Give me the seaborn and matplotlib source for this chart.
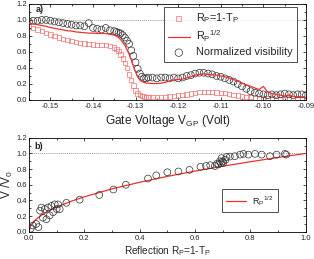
import numpy as np
import pandas as pd
import matplotlib
matplotlib.use('Agg')
import matplotlib.pyplot as plt
import seaborn as sns
from matplotlib.ticker import MultipleLocator, AutoMinorLocator

# ---------------------------------------------------------
# Panel a) data: gate voltage sweep
# ---------------------------------------------------------
gate_v = [-0.155, -0.154, -0.153, -0.152, -0.151, -0.150, -0.149, -0.148, -0.147, -0.146,
          -0.145, -0.144, -0.143, -0.142, -0.141, -0.140, -0.139, -0.138, -0.137, -0.136,
          -0.135, -0.1345, -0.134, -0.1335, -0.133, -0.1325, -0.132, -0.1315, -0.131, -0.1305,
          -0.130, -0.1295, -0.129, -0.1285, -0.128, -0.1275, -0.127, -0.126, -0.125, -0.124,
          -0.123, -0.122, -0.121, -0.120, -0.119, -0.118, -0.117, -0.116, -0.115, -0.114,
          -0.113, -0.112, -0.111, -0.110, -0.109, -0.108, -0.107, -0.106, -0.105, -0.104,
          -0.103, -0.102, -0.101, -0.100, -0.099, -0.098, -0.097, -0.096, -0.095, -0.094,
          -0.093, -0.092, -0.091, -0.090]

refl_rp = [0.92, 0.90, 0.88, 0.86, 0.84, 0.82, 0.80, 0.78, 0.765, 0.75,
           0.74, 0.725, 0.715, 0.705, 0.70, 0.695, 0.69, 0.69, 0.685, 0.675,
           0.655, 0.64, 0.61, 0.57, 0.52, 0.46, 0.40, 0.32, 0.25, 0.18,
           0.12, 0.08, 0.06, 0.05, 0.045, 0.04, 0.04, 0.04, 0.04, 0.04,
           0.04, 0.045, 0.05, 0.055, 0.06, 0.07, 0.08, 0.09, 0.10, 0.10,
           0.10, 0.10, 0.095, 0.09, 0.085, 0.075, 0.065, 0.055, 0.045, 0.04,
           0.035, 0.03, 0.025, 0.02, 0.02, 0.02, 0.015, 0.015, 0.015, 0.02,
           0.02, 0.015, 0.015, 0.015]

sqrt_rp = [0.96, 0.95, 0.94, 0.93, 0.92, 0.905, 0.895, 0.885, 0.875, 0.865,
           0.86, 0.85, 0.845, 0.84, 0.835, 0.835, 0.83, 0.83, 0.83, 0.82,
           0.81, 0.80, 0.78, 0.755, 0.72, 0.68, 0.63, 0.57, 0.50, 0.42,
           0.35, 0.29, 0.25, 0.23, 0.22, 0.21, 0.21, 0.205, 0.205, 0.21,
           0.22, 0.24, 0.25, 0.255, 0.26, 0.275, 0.29, 0.31, 0.32, 0.325,
           0.32, 0.315, 0.31, 0.30, 0.29, 0.275, 0.255, 0.235, 0.21, 0.19,
           0.17, 0.15, 0.13, 0.17, 0.10, 0.08, 0.07, 0.06, 0.05, 0.06,
           0.045, 0.04, 0.04, 0.035]

visibility = [0.98, 0.99, 0.99, 1.00, 1.00, 0.99, 0.98, 0.97, 0.96, 0.95,
              0.94, 0.93, 0.93, 0.92, 0.96, 0.90, 0.89, 0.88, 0.90, 0.87,
              0.86, 0.85, 0.84, 0.83, 0.81, 0.78, 0.74, 0.70, 0.62, 0.55,
              0.47, 0.39, 0.33, 0.29, 0.27, 0.27, 0.28, 0.28, 0.27, 0.28,
              0.28, 0.27, 0.28, 0.27, 0.28, 0.30, 0.31, 0.33, 0.34, 0.34,
              0.33, 0.32, 0.30, 0.29, 0.27, 0.25, 0.23, 0.20, 0.17, 0.14,
              0.11, 0.09, 0.08, 0.07, 0.06, 0.07, 0.06, 0.07, 0.08, 0.07,
              0.06, 0.07, 0.07, 0.06]

# ---------------------------------------------------------
# Panel b) data: visibility vs reflection
# ---------------------------------------------------------
b_refl = [0.006, 0.014, 0.026, 0.034, 0.040, 0.045, 0.050, 0.057, 0.063, 0.069,
          0.075, 0.081, 0.087, 0.093, 0.100, 0.105, 0.111, 0.135, 0.183, 0.254,
          0.305, 0.350, 0.430, 0.460, 0.500, 0.540, 0.580, 0.620, 0.640, 0.655,
          0.672, 0.680, 0.685, 0.690, 0.695, 0.696, 0.700, 0.702, 0.710, 0.714,
          0.726, 0.744, 0.763, 0.775, 0.793, 0.817, 0.841, 0.871, 0.895, 0.925,
          0.930]
b_vis = [0.04, 0.08, 0.10, 0.06, 0.27, 0.31, 0.18, 0.29, 0.16, 0.31,
         0.21, 0.33, 0.25, 0.35, 0.29, 0.35, 0.29, 0.37, 0.41, 0.47,
         0.54, 0.60, 0.68, 0.72, 0.76, 0.77, 0.79, 0.83, 0.84, 0.85,
         0.84, 0.87, 0.86, 0.90, 0.875, 0.94, 0.90, 0.88, 0.92, 0.955,
         0.96, 0.965, 0.985, 0.995, 0.985, 0.995, 0.985, 0.965, 0.985, 0.995,
         0.985]

curve_x = [0.0, 0.005, 0.01, 0.02, 0.03, 0.05, 0.07, 0.10, 0.15, 0.20, 0.30, 0.40,
           0.50, 0.60, 0.70, 0.80, 0.90, 1.00]
curve_y = [0.0, 0.071, 0.10, 0.141, 0.173, 0.224, 0.265, 0.316, 0.387, 0.447, 0.548, 0.632,
           0.707, 0.775, 0.837, 0.894, 0.949, 1.00]

RED = '#f03030'
PINK = '#f07070'
CIRCLE = '#333333'

sns.set_theme(style='ticks')
plt.rcParams['font.family'] = ['Liberation Sans', 'DejaVu Sans']
plt.rcParams['mathtext.default'] = 'regular'
plt.rcParams['mathtext.fontset'] = 'custom'
plt.rcParams['mathtext.rm'] = 'Liberation Sans'


def style_axes(ax):
    for sp in ax.spines.values():
        sp.set_linewidth(0.6)
        sp.set_color('black')
    ax.tick_params(which='both', direction='in', top=True, right=True,
                   width=0.5, labelsize=5.5, pad=2, color='black')
    ax.tick_params(axis='y', pad=1.5)
    ax.tick_params(which='major', length=2.5)
    ax.tick_params(which='minor', length=1.5)
    ax.yaxis.set_major_locator(MultipleLocator(0.2))
    ax.yaxis.set_minor_locator(AutoMinorLocator(2))
    ax.xaxis.set_minor_locator(AutoMinorLocator(2))
    ax.set_ylim(0, 1.2)


fig = plt.figure(figsize=(3.14, 2.59), dpi=100)
ax_a = fig.add_axes([0.0924, 0.614, 0.882, 0.371])
ax_b = fig.add_axes([0.0924, 0.105, 0.881, 0.363])

df_a = pd.DataFrame({'v': gate_v, 'rp': refl_rp, 'sq': sqrt_rp, 'vis': visibility})

# ---------------------------------------------------------
# PLOT a
# ---------------------------------------------------------
ax_a.axhline(1.0, color='#777777', lw=0.5, ls=(0, (1.5, 1.5)), zorder=0)
sns.scatterplot(data=df_a, x='v', y='rp', ax=ax_a, marker='s', s=10,
                facecolor='none', edgecolor=PINK, linewidth=0.5,
                label=r'R$_P$=1-T$_P$', zorder=2)
sns.scatterplot(data=df_a, x='v', y='vis', ax=ax_a, marker='o', s=24,
                facecolor='none', edgecolor=CIRCLE, linewidth=0.5,
                label='Normalized visibility', zorder=3)
sns.lineplot(data=df_a, x='v', y='sq', ax=ax_a, color=RED, lw=0.9,
             sort=False, estimator=None, label=r'R$_P$$^{1/2}$', zorder=4)
style_axes(ax_a)
ax_a.set_xlim(-0.155, -0.09)
ax_a.xaxis.set_major_locator(MultipleLocator(0.01))
ax_a.set_xticklabels([f'{t:.2f}' for t in ax_a.get_xticks()])
ax_a.set_xlabel(r'Gate Voltage V$_{GP}$ (Volt)', fontsize=8.6, labelpad=2)
ax_a.set_ylabel('')
ax_a.text(0.025, 0.985, 'a)', transform=ax_a.transAxes, fontsize=6.5,
          fontweight='bold', va='top')
h, l = ax_a.get_legend_handles_labels()
order = [l.index(r'R$_P$=1-T$_P$'), l.index(r'R$_P$$^{1/2}$'), l.index('Normalized visibility')]
leg = ax_a.legend([h[i] for i in order], [l[i] for i in order], loc='upper right',
                  bbox_to_anchor=(0.968, 0.965), borderaxespad=0, fontsize=7.8,
                  frameon=True, fancybox=False, edgecolor='black', handlelength=2.0,
                  labelspacing=0.3, borderpad=0.4, handletextpad=0.6, markerscale=1.1)
leg.get_frame().set_linewidth(0.6)

# ---------------------------------------------------------
# PLOT b
# ---------------------------------------------------------
ax_b.axhline(1.0, color='#777777', lw=0.5, ls=(0, (1.5, 1.5)), zorder=0)
sns.lineplot(x=curve_x, y=curve_y, ax=ax_b, color=RED, lw=0.9,
             sort=False, estimator=None, label=r'R$_P$$^{1/2}$', zorder=2)
sns.scatterplot(x=b_refl, y=b_vis, ax=ax_b, marker='o', s=24,
                facecolor='none', edgecolor=CIRCLE, linewidth=0.5, zorder=3)
style_axes(ax_b)
ax_b.set_xlim(0, 1.0)
ax_b.xaxis.set_major_locator(MultipleLocator(0.2))
ax_b.set_xlabel(r'Reflection R$_P$=1-T$_P$', fontsize=7.2, labelpad=2)
ax_b.set_ylabel(r'V /V$_0$', fontsize=8.5)
ax_b.yaxis.set_label_coords(-0.05, 0.5)
ax_b.text(0.02, 0.95, 'b)', transform=ax_b.transAxes, fontsize=6.5,
          fontweight='bold', va='top')
leg_b = ax_b.legend(loc='center right', bbox_to_anchor=(0.915, 0.33), fontsize=6.5,
                    frameon=True, fancybox=False, edgecolor='black',
                    handlelength=2.2, borderpad=0.5, handletextpad=0.6)
leg_b.get_frame().set_linewidth(0.6)

plt.savefig('out.png', dpi=100)
plt.close()
